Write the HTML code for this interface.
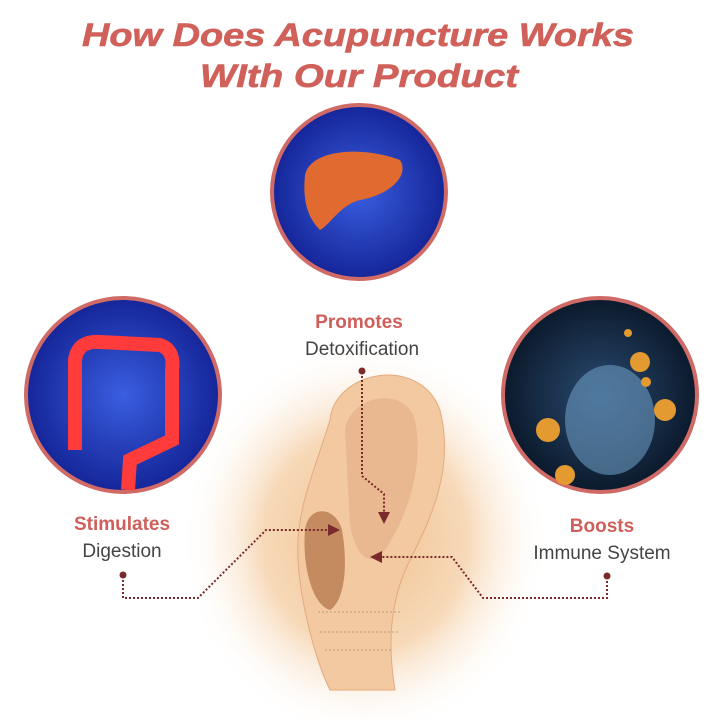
<!DOCTYPE html>
<html><head><meta charset="utf-8"><style>
body{margin:0;width:720px;height:720px;background:#fff;overflow:hidden;font-family:"Liberation Sans",sans-serif}
</style></head><body>
<svg width="720" height="720" viewBox="0 0 720 720" xmlns="http://www.w3.org/2000/svg">
<defs>
<radialGradient id="glow" cx="0.5" cy="0.5" r="0.5">
<stop offset="0" stop-color="#f0c090"/><stop offset="0.55" stop-color="#f7d9b8"/><stop offset="1" stop-color="#fff" stop-opacity="0"/></radialGradient>
<radialGradient id="blue" cx="0.5" cy="0.5" r="0.6"><stop offset="0" stop-color="#3a5ee0"/><stop offset="1" stop-color="#0d1a8a"/></radialGradient>
<radialGradient id="dark" cx="0.5" cy="0.5" r="0.6"><stop offset="0" stop-color="#2a4a70"/><stop offset="1" stop-color="#05101e"/></radialGradient>
<marker id="ar" markerWidth="6" markerHeight="6" refX="5" refY="3" orient="auto"><path d="M0,0L6,3L0,6z" fill="#7a2a2a"/></marker>
</defs>
<text x="82" y="46" textLength="552" lengthAdjust="spacingAndGlyphs" font-size="32" font-weight="bold" font-style="italic" fill="#d0605a" stroke="#d0605a" stroke-width="0.6">How Does Acupuncture Works</text>
<text x="200" y="87" textLength="318" lengthAdjust="spacingAndGlyphs" font-size="32" font-weight="bold" font-style="italic" fill="#d0605a" stroke="#d0605a" stroke-width="0.6">WIth Our Product</text>
<ellipse cx="365" cy="540" rx="185" ry="200" fill="url(#glow)"/>
<path d="M330,420 C335,370 420,355 440,410 C455,470 430,520 410,560 C395,590 385,630 395,690 L330,690 C315,660 300,600 298,560 C295,510 315,470 330,420 Z" fill="#f2c9a0" stroke="#e3aa80"/>
<path d="M345,430 C350,395 405,385 415,420 C425,470 405,520 385,550 C370,570 355,555 350,525 Z" fill="#eab890"/>
<path d="M305,530 C308,505 335,505 342,530 C348,565 345,600 330,610 C312,605 302,565 305,530Z" fill="#c48a60"/>
<g stroke="#b08a70" stroke-width="0.8" stroke-dasharray="2,2" fill="none"><path d="M318,612 H402"/><path d="M320,632 H398"/><path d="M325,650 H392"/></g>
<circle cx="359" cy="192" r="87" fill="url(#blue)" stroke="#cf6a66" stroke-width="4"/>
<path d="M305,175 C310,150 360,145 400,160 C410,175 390,195 360,200 C340,205 330,225 320,230 C305,215 303,195 305,175Z" fill="#e06a30"/>
<circle cx="123" cy="395" r="97" fill="url(#blue)" stroke="#cf6a66" stroke-width="4"/>
<path d="M75,450 L75,360 Q78,340 100,342 L160,345 Q175,350 172,370 L172,440 L130,460 L128,490" fill="none" stroke="#ff3b3b" stroke-width="14"/>
<circle cx="600" cy="395" r="97" fill="url(#dark)" stroke="#cf6a66" stroke-width="4"/>
<ellipse cx="610" cy="420" rx="45" ry="55" fill="#6a9ac0" opacity="0.6"/>
<g fill="#e39a30"><circle cx="548" cy="430" r="12"/><circle cx="640" cy="362" r="10"/><circle cx="665" cy="410" r="11"/><circle cx="565" cy="475" r="10"/><circle cx="646" cy="382" r="5"/><circle cx="628" cy="333" r="4"/></g>
<text x="359" y="328" text-anchor="middle" font-size="19" font-weight="bold" fill="#cf5f5b">Promotes</text>
<text x="362" y="355" text-anchor="middle" font-size="19" fill="#444">Detoxification</text>
<text x="122" y="530" text-anchor="middle" font-size="19" font-weight="bold" fill="#cf5f5b">Stimulates</text>
<text x="122" y="557" text-anchor="middle" font-size="19" fill="#444">Digestion</text>
<text x="602" y="532" text-anchor="middle" font-size="19" font-weight="bold" fill="#cf5f5b">Boosts</text>
<text x="602" y="559" text-anchor="middle" font-size="19" fill="#444">Immune System</text>
<g fill="none" stroke="#7a2a2a" stroke-width="2" stroke-dasharray="2,2">
<path d="M362,372 V476 L384,494 V522" marker-end="url(#ar)"/>
<path d="M123,576 V598 H198 L266,530 H338" marker-end="url(#ar)"/>
<path d="M607,577 V598 H483 L452,557 H372" marker-end="url(#ar)"/>
</g>
<g fill="#7a2a2a"><circle cx="362" cy="371" r="3.5"/><circle cx="123" cy="575" r="3.5"/><circle cx="607" cy="576" r="3.5"/></g>
</svg>
</body></html>
